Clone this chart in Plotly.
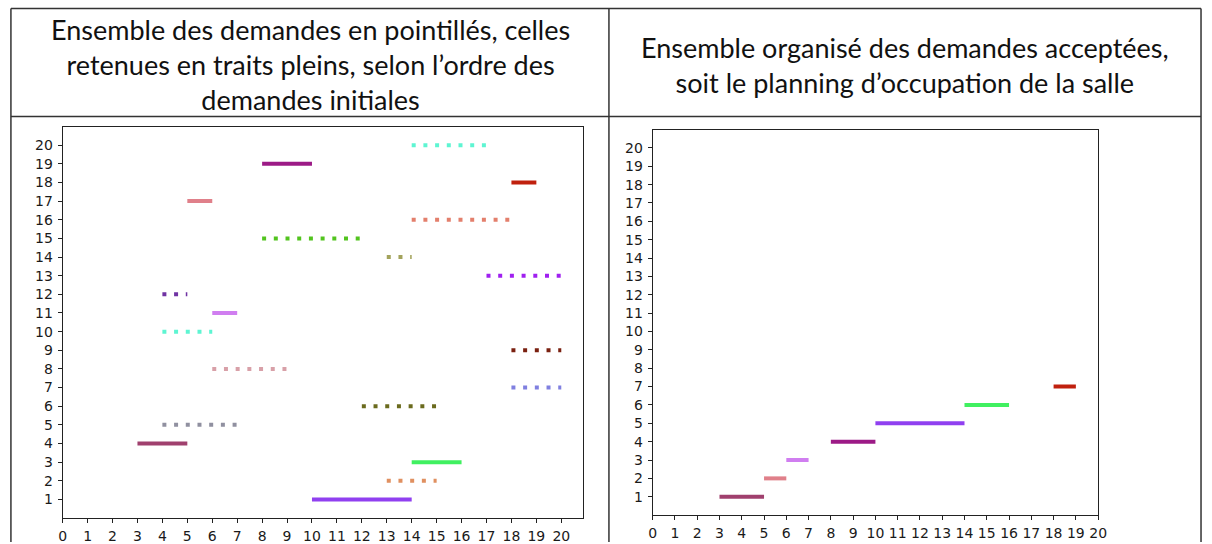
import plotly.graph_objects as go

# ---- data: all requests in initial order (left chart) ----
req_start = [14, 8, 18, 5, 14, 8, 13, 17, 4, 6, 4, 18, 6, 18, 12, 4, 3, 14, 13, 10]
req_end   = [17, 10, 19, 6, 18, 12, 14, 20, 5, 7, 6, 20, 9, 20, 15, 7, 5, 16, 15, 14]
req_row   = [20, 19, 18, 17, 16, 15, 14, 13, 12, 11, 10, 9, 8, 7, 6, 5, 4, 3, 2, 1]
req_kept  = [False, True, True, True, False, False, False, False, False, True,
             False, False, False, False, False, False, True, True, False, True]
req_color = ["#5ef5d2", "#9c1a86", "#c0200e", "#e0808a", "#e37f6c", "#52c41e",
             "#a3a35c", "#a020f0", "#7033a3", "#d07ef0", "#5ef5d2", "#7a2010",
             "#d8a0a8", "#8080e0", "#6b6b1e", "#9090a0", "#a0406e", "#40f060",
             "#e09060", "#9040f0"]

# ---- data: accepted requests (right chart) ----
acc_start = [3, 5, 6, 8, 10, 14, 18]
acc_end   = [5, 6, 7, 10, 14, 16, 19]
acc_row   = [1, 2, 3, 4, 5, 6, 7]
acc_color = ["#a0406e", "#e0808a", "#d07ef0", "#9c1a86", "#9040f0", "#40f060", "#c0200e"]

ticks = list(range(0, 21))
yticks = list(range(1, 21))

W, H = 1212, 544

fig = go.Figure()

for s, e, r, k, c in zip(req_start, req_end, req_row, req_kept, req_color):
    fig.add_trace(go.Scatter(
        x=[s, e], y=[r, r], mode="lines", xaxis="x", yaxis="y",
        line=dict(color=c, width=4, dash="solid" if k else "4px,7.7px"),
        showlegend=False, hoverinfo="skip"))

for s, e, r, c in zip(acc_start, acc_end, acc_row, acc_color):
    fig.add_trace(go.Scatter(
        x=[s, e], y=[r, r], mode="lines", xaxis="x2", yaxis="y2",
        line=dict(color=c, width=4),
        showlegend=False, hoverinfo="skip"))

def px(x):
    return x / W

def py(y):
    return 1 - y / H

axis_common = dict(showline=True, linecolor="#222", linewidth=1, mirror=True,
                   ticks="outside", ticklen=4, tickwidth=1, tickcolor="#222",
                   showgrid=False, zeroline=False, tickmode="array",
                   tickfont=dict(family="DejaVu Sans", size=14, color="#1a1a1a"))

fig.update_layout(
    width=W, height=H,
    margin=dict(l=0, r=0, t=0, b=0),
    paper_bgcolor="white", plot_bgcolor="white",
    xaxis=dict(domain=[px(59.3), px(585)], range=[0, 20.86], tickvals=ticks,
               anchor="y", ticklabelstandoff=1, **axis_common),
    yaxis=dict(domain=[py(520), py(127)], range=[0, 21], tickvals=yticks,
               anchor="x", ticklabelstandoff=2, **axis_common),
    xaxis2=dict(domain=[px(655.7), px(1106)], range=[0, 20], tickvals=ticks,
                anchor="y2", ticklabelstandoff=1, **axis_common),
    yaxis2=dict(domain=[py(517), py(130)], range=[0, 21], tickvals=yticks,
                anchor="x2", ticklabelstandoff=2, **axis_common),
)

# table borders
border = dict(color="#333", width=1.5)
shapes = [
    dict(type="line", xref="paper", yref="paper", x0=px(7), x1=px(1210), y0=py(8.5), y1=py(8.5), line=border),
    dict(type="line", xref="paper", yref="paper", x0=px(7), x1=px(1210), y0=py(117), y1=py(117), line=border),
    dict(type="line", xref="paper", yref="paper", x0=px(7), x1=px(7), y0=py(8.5), y1=0, line=border),
    dict(type="line", xref="paper", yref="paper", x0=px(611.5), x1=px(611.5), y0=py(8.5), y1=0, line=border),
    dict(type="line", xref="paper", yref="paper", x0=px(1210), x1=px(1210), y0=py(8.5), y1=0, line=border),
]
fig.update_layout(shapes=shapes)

hfont = dict(family="Lato", size=27, color="#111")
fig.add_annotation(xref="paper", yref="paper", x=px(309.5), y=py(65), xanchor="center", yanchor="middle",
                   text="Ensemble des demandes en pointillés, celles<br>retenues en traits pleins, selon l’ordre des<br>demandes initiales",
                   showarrow=False, font=hfont, align="center")
fig.add_annotation(xref="paper", yref="paper", x=px(911), y=py(65), xanchor="center", yanchor="middle",
                   text="Ensemble organisé des demandes acceptées,<br>soit le planning d’occupation de la salle",
                   showarrow=False, font=hfont, align="center")

fig.write_html("out.html", config={"displayModeBar": False},
               post_script="document.body.style.margin='0';document.body.style.overflow='hidden';")
